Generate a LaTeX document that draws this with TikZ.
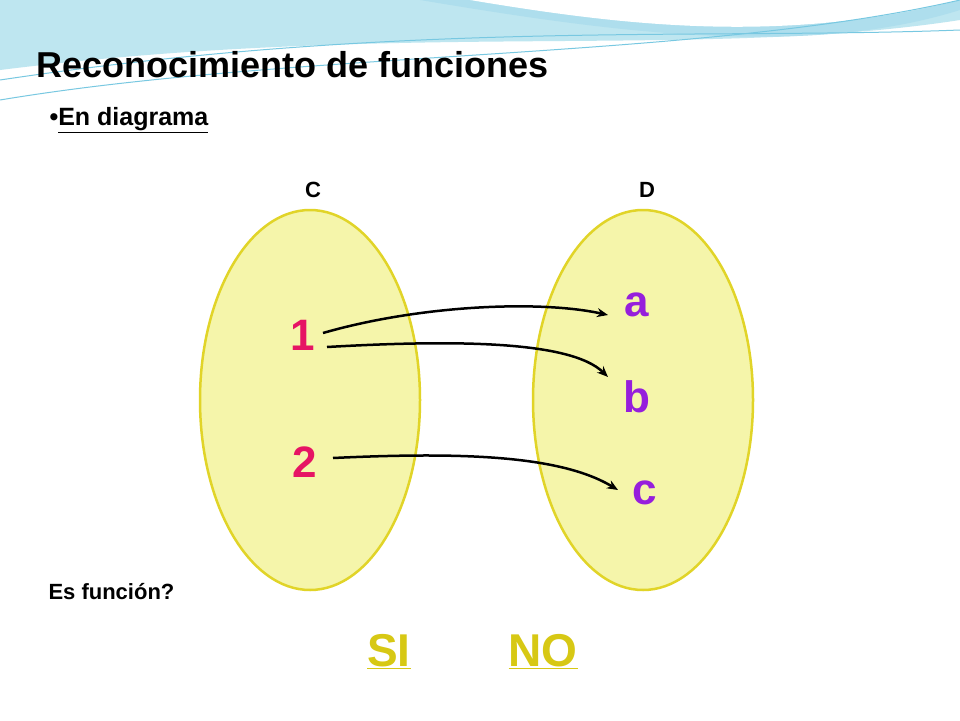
\documentclass[tikz,border=0pt]{standalone}
\usepackage{fontspec}
\setmainfont{Liberation Sans}
\usetikzlibrary{arrows.meta,shapes.geometric}
\definecolor{ellfill}{RGB}{245,245,170}
\definecolor{elldraw}{RGB}{225,212,40}
\definecolor{numc}{RGB}{230,20,100}
\definecolor{letc}{RGB}{150,30,220}
\definecolor{yel}{RGB}{215,200,20}
\definecolor{wave1}{RGB}{190,230,240}
\definecolor{wave2}{RGB}{120,200,225}
\tikzset{
  setell/.style={draw=elldraw,line width=2.5pt,fill=ellfill,ellipse,minimum width=220pt,minimum height=380pt},
  num/.style={text=numc,font=\bfseries\fontsize{44}{46}\selectfont},
  let/.style={text=letc,font=\bfseries\fontsize{44}{46}\selectfont},
  lab/.style={font=\bfseries\fontsize{22}{24}\selectfont},
  ans/.style={text=yel,font=\bfseries\fontsize{46}{48}\selectfont},
  maparr/.style={-{Stealth[length=11pt,width=9pt]},line width=2.5pt}
}
\begin{document}
\begin{tikzpicture}[x=1pt,y=-1pt]
\useasboundingbox (0,0) rectangle (960,720);
\fill[white] (0,0) rectangle (960,720);
% top waves
\fill[wave1] (0,0) -- (960,0) -- (960,20) .. controls (700,60) and (400,20) .. (0,70) -- cycle;
\fill[wave2!60] (420,0) .. controls (600,30) and (800,60) .. (960,10) -- (960,0) -- cycle;
\fill[white] (470,0) .. controls (620,25) and (780,45) .. (960,0) -- cycle;
\draw[wave2,line width=1pt] (0,100) .. controls (300,50) and (700,60) .. (960,0);
\draw[wave2,line width=1pt] (0,80) .. controls (400,20) and (700,40) .. (960,30);
% title
\node[anchor=west,font=\bfseries\fontsize{36}{38}\selectfont] (title) at (33,65) {Reconocimiento de funciones};
\node[anchor=west,font=\bfseries\fontsize{25}{27}\selectfont] (sub) at (46,120) {•\underline{En diagrama}};
\node[setell] (C) at (310,400) {};
\node[setell] (D) at (643,400) {};
\node[lab] (lc) at (313,190) {C};
\node[lab] (ld) at (647,190) {D};
\node[num] (n1) at (303,335) {1};
\node[num] (n2) at (305,462) {2};
\node[let] (a) at (637,305) {a};
\node[let] (b) at (637,397) {b};
\node[let] (c) at (645,493) {c};
\node[anchor=west,font=\bfseries\fontsize{22}{24}\selectfont] (q) at (45,592) {Es función?};
\node[ans] (si) at (389,652) {\underline{SI}};
\node[ans] (no) at (543,652) {\underline{NO}};
\coordinate (s1) at (323,333); \coordinate (s2) at (327,347); \coordinate (s3) at (333,458);
\coordinate (ea) at (608,315); \coordinate (eb) at (608,377); \coordinate (ec) at (618,490);
\draw[maparr] (s1) .. controls (420,305) and (540,300) .. (ea);
\draw[maparr] (s2) .. controls (450,340) and (570,340) .. (eb);
\draw[maparr] (s3) .. controls (460,452) and (560,455) .. (ec);
\end{tikzpicture}
\end{document}
